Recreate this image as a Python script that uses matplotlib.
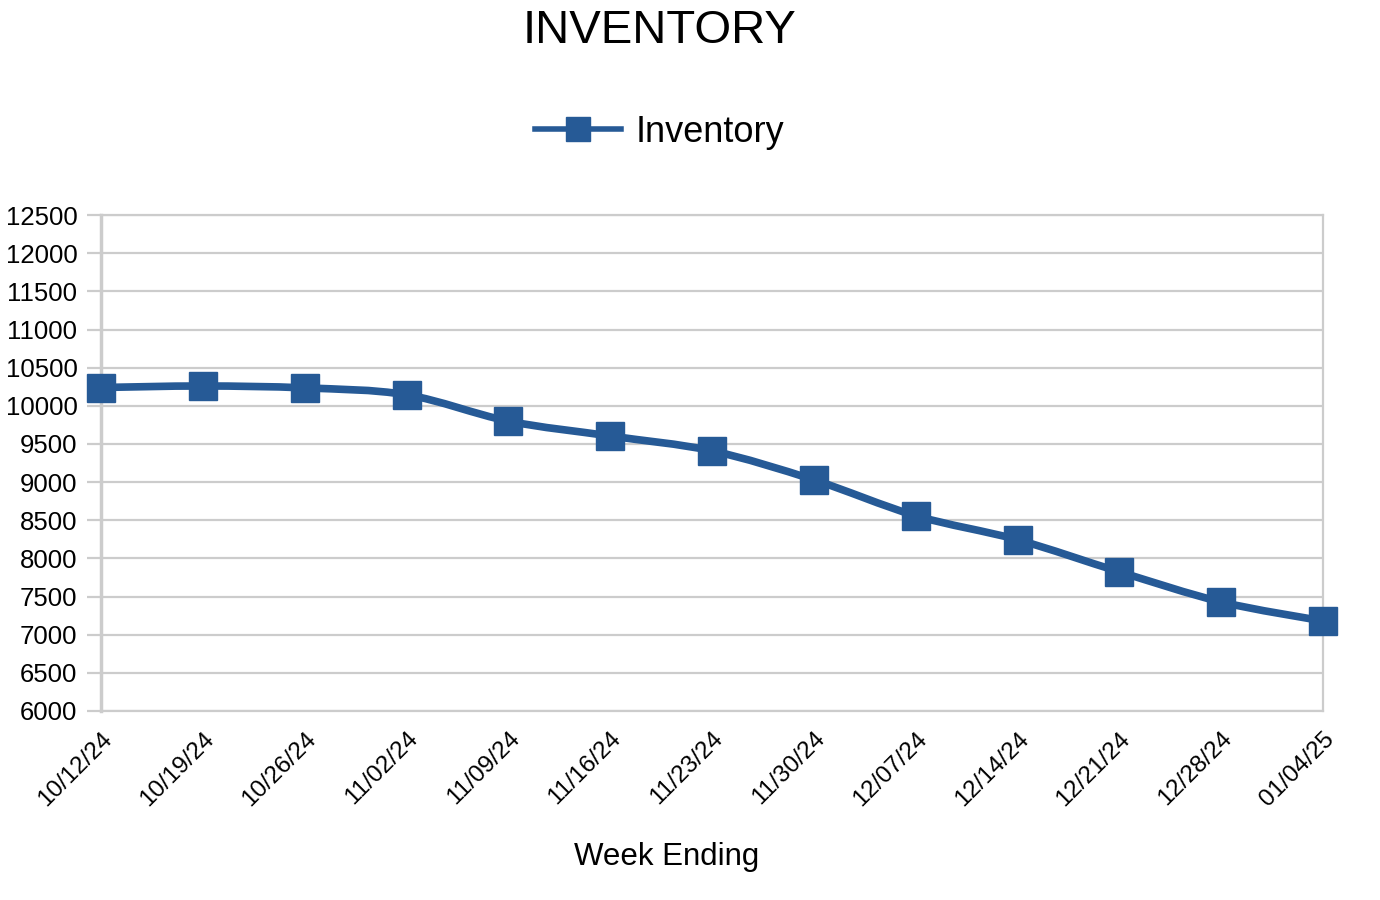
import matplotlib
matplotlib.use('Agg')
import matplotlib.pyplot as plt
import numpy as np
from matplotlib.path import Path
from matplotlib.patches import PathPatch
from matplotlib.lines import Line2D

plt.rcParams['font.family'] = ['Liberation Sans', 'DejaVu Sans']

semanas = ['10/12/24', '10/19/24', '10/26/24', '11/02/24', '11/09/24', '11/16/24',
           '11/23/24', '11/30/24', '12/07/24', '12/14/24', '12/21/24', '12/28/24', '01/04/25']
inventario = [10240, 10260, 10235, 10145, 9800, 9605, 9410, 9030, 8560, 8245, 7825, 7430, 7180]

azul = '#265a96'
gris = '#cccccc'

fig = plt.figure(figsize=(13.8, 9), dpi=100)
ax = fig.add_axes([0.0732, 0.21, 0.8855, 0.551])

x = np.arange(len(semanas))
y = np.array(inventario, dtype=float)

# curva suavizada (Catmull-Rom como bezier)
verts = [(x[0], y[0])]
codes = [Path.MOVETO]
for i in range(len(x) - 1):
    p0 = (x[i - 1], y[i - 1]) if i > 0 else (x[i], y[i])
    p1 = (x[i], y[i])
    p2 = (x[i + 1], y[i + 1])
    p3 = (x[i + 2], y[i + 2]) if i + 2 < len(x) else (x[i + 1], y[i + 1])
    c1 = (p1[0] + (p2[0] - p0[0]) / 6, p1[1] + (p2[1] - p0[1]) / 6)
    c2 = (p2[0] - (p3[0] - p1[0]) / 6, p2[1] - (p3[1] - p1[1]) / 6)
    verts += [c1, c2, p2]
    codes += [Path.CURVE4] * 3
ax.add_patch(PathPatch(Path(verts, codes), facecolor='none', edgecolor=azul,
                       lw=5.5, capstyle='round', joinstyle='round', zorder=3))
ax.plot(x, y, linestyle='none', marker='s', markersize=20, color=azul, zorder=4,
        clip_on=False)

ax.set_xlim(0, len(semanas) - 1)
ax.set_ylim(6000, 12500)
ax.set_yticks(np.arange(6000, 12501, 500))
ax.set_xticks(x)
ax.set_xticklabels(semanas, rotation=45, ha='right', rotation_mode='anchor', fontsize=17.5)
ax.tick_params(axis='y', labelsize=18.5, length=10, color=gris, width=1.6, pad=7)
ax.tick_params(axis='x', length=0, pad=12)
ax.grid(axis='y', color=gris, lw=1.6)
ax.set_axisbelow(True)
for lado in ['left', 'right', 'bottom', 'top']:
    ax.spines[lado].set_color(gris)
    ax.spines[lado].set_linewidth(1.6)
ax.spines['left'].set_linewidth(2.5)

fig.text(0.483, 0.048, 'Week Ending', ha='center', va='center', fontsize=22.5)
fig.text(0.478, 0.99, 'INVENTORY', ha='center', va='top', fontsize=34)

handle = Line2D([], [], color=azul, lw=4, marker='s', markersize=17)
fig.legend([handle], ['Inventory'], loc='center', bbox_to_anchor=(0.478, 0.853),
           frameon=False, fontsize=26, handlelength=2.4, handletextpad=0.4)

fig.savefig('out.png', dpi=100)
